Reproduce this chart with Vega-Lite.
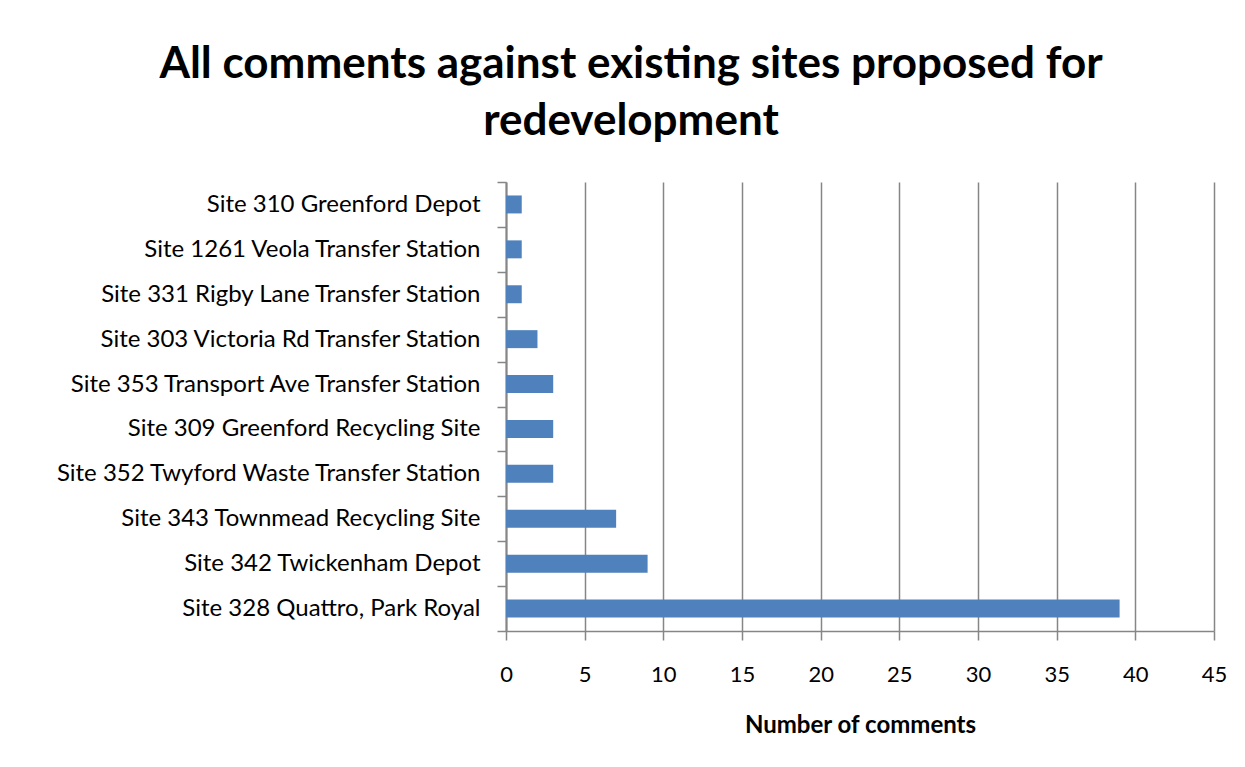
{
  "$schema": "https://vega.github.io/schema/vega-lite/v6.json",
  "autosize": {"type": "none"},
  "padding": {"left": 506, "top": 182, "right": 31, "bottom": 136},
  "width": 708,
  "height": 449,
  "background": "white",
  "title": {
    "text": ["All comments against existing sites proposed for", "redevelopment"],
    "font": "Lato",
    "fontSize": 44,
    "fontWeight": "bold",
    "color": "#000000",
    "anchor": "middle",
    "frame": "group",
    "dx": -229,
    "offset": 26,
    "lineHeight": 57
  },
  "data": {
    "values": [
      {"site": "Site 310 Greenford  Depot", "comments": 1},
      {"site": "Site 1261 Veola Transfer Station", "comments": 1},
      {"site": "Site 331 Rigby Lane Transfer Station", "comments": 1},
      {"site": "Site 303 Victoria Rd Transfer Station", "comments": 2},
      {"site": "Site 353 Transport Ave Transfer Station", "comments": 3},
      {"site": "Site 309 Greenford  Recycling Site", "comments": 3},
      {"site": "Site 352  Twyford Waste Transfer Station", "comments": 3},
      {"site": "Site 343 Townmead Recycling Site", "comments": 7},
      {"site": "Site 342 Twickenham Depot", "comments": 9},
      {"site": "Site 328 Quattro, Park Royal", "comments": 39}
    ]
  },
  "mark": {"type": "bar", "color": "#4F81BD", "height": {"band": 0.4}},
  "encoding": {
    "y": {
      "field": "site",
      "type": "nominal",
      "sort": null,
      "scale": {"paddingInner": 0, "paddingOuter": 0},
      "axis": {
        "title": null,
        "tickBand": "extent",
        "grid": false,
        "domainColor": "#868686",
        "domainWidth": 2,
        "tickColor": "#868686",
        "tickWidth": 1.5,
        "tickSize": 9,
        "labelFont": "Lato",
        "labelFontSize": 24,
        "labelColor": "#000000",
        "labelPadding": 17,
        "labelLimit": 600
      }
    },
    "x": {
      "field": "comments",
      "type": "quantitative",
      "scale": {"domain": [0, 45], "nice": false},
      "axis": {
        "values": [0, 5, 10, 15, 20, 25, 30, 35, 40, 45],
        "title": "Number of comments",
        "titleFont": "Lato",
        "titleFontSize": 24,
        "titleFontWeight": "bold",
        "titleColor": "#000000",
        "titleY": 94,
        "titleBaseline": "middle",
        "titleAnchor": "middle",
        "grid": true,
        "gridColor": "#868686",
        "gridWidth": 1.5,
        "domainColor": "#868686",
        "domainWidth": 1.5,
        "tickColor": "#868686",
        "tickWidth": 1.5,
        "tickSize": 9,
        "labelFont": "Lato",
        "labelFontSize": 22,
        "labelColor": "#000000",
        "labelPadding": 24,
        "labelFlush": false
      }
    }
  },
  "config": {"view": {"stroke": null}}
}
